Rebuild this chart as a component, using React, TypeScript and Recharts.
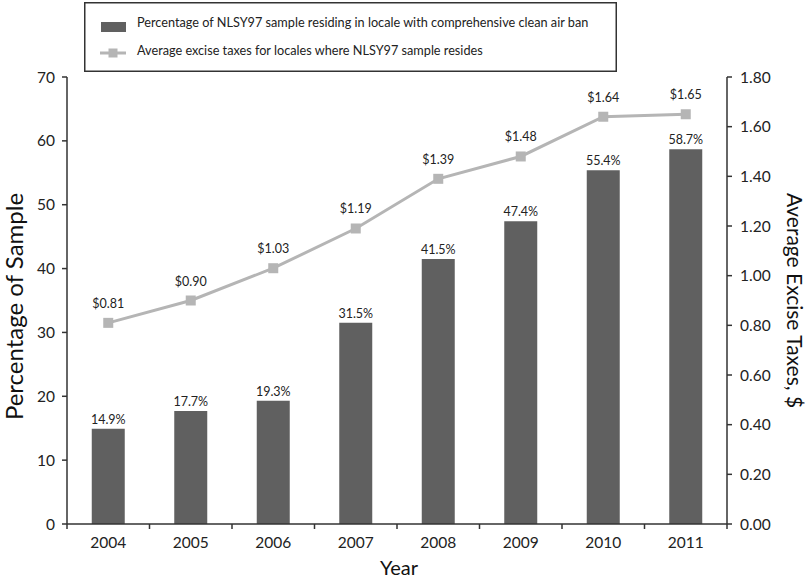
import React from 'react';
import { ComposedChart, Bar, Line, XAxis, YAxis, Legend, LabelList } from 'recharts';

const years = ['2004', '2005', '2006', '2007', '2008', '2009', '2010', '2011'];
const cleanAirBanPct = [14.9, 17.7, 19.3, 31.5, 41.5, 47.4, 55.4, 58.7];
const exciseTaxes = [0.81, 0.9, 1.03, 1.19, 1.39, 1.48, 1.64, 1.65];
const leftTicks = [0, 10, 20, 30, 40, 50, 60, 70];
const rightTicks = [0, 0.2, 0.4, 0.6, 0.8, 1.0, 1.2, 1.4, 1.6, 1.8];

const barLegend = 'Percentage of NLSY97 sample residing in locale with comprehensive clean air ban';
const lineLegend = 'Average excise taxes for locales where NLSY97 sample resides';

const data = years.map((y, i) => ({ year: y, pct: cleanAirBanPct[i], tax: exciseTaxes[i] }));

const W = 807;
const H = 582;
const FONT = 'Lato, "Open Sans", sans-serif';
const BAR = '#606060';
const LINE = '#b5b5b5';
const AXIS = '#333';

const XTick = (props: any) => {
  const { x, y, payload, index, visibleTicksCount, width } = props;
  const band = width / visibleTicksCount;
  const half = band / 2;
  const ay = y - 13;
  return (
    <g>
      <line x1={x - half} x2={x - half} y1={ay} y2={ay + 5} stroke={AXIS} strokeWidth={1.5} />
      {index === visibleTicksCount - 1 && (
        <line x1={x + half} x2={x + half} y1={ay} y2={ay + 5} stroke={AXIS} strokeWidth={1.5} />
      )}
      <text x={x} y={y} dy="0.71em" textAnchor="middle" fill="#222" fontSize={15.5}>
        {payload.value}
      </text>
    </g>
  );
};

const SquareDot = (props: any) => {
  const { cx, cy } = props;
  if (cx == null || cy == null) return null;
  return <rect x={cx - 5} y={cy - 5} width={10} height={10} fill={LINE} />;
};

const LegendBox = () => (
  <svg width={533} height={70} style={{ display: 'block' }}>
    <rect x={0.75} y={0.75} width={531.5} height={68.5} fill="#fff" stroke={AXIS} strokeWidth={1.5} />
    <rect x={17} y={20} width={25} height={10} fill={BAR} />
    <text x={53} y={25} fontSize={12.7} fill="#222">{barLegend}</text>
    <line x1={16} x2={42} y1={51} y2={51} stroke={LINE} strokeWidth={3} />
    <rect x={24.5} y={46.5} width={9} height={9} fill={LINE} />
    <text x={53} y={53} fontSize={12.7} fill="#222">{lineLegend}</text>
  </svg>
);

export default function App() {
  return (
    <div style={{ position: 'fixed', left: 0, top: 0, width: W, height: H, background: '#fff', fontFamily: FONT }}>
      <ComposedChart
        width={W}
        height={H}
        data={data}
        margin={{ top: 77, right: 0, bottom: 0, left: 0 }}
        barCategoryGap="30%"
      >
        <Legend
          layout="horizontal"
          verticalAlign="middle"
          align="center"
          content={<LegendBox />}
          wrapperStyle={{ position: 'absolute', top: 2, left: 84, width: 533, height: 70 }}
        />
        <XAxis
          dataKey="year"
          height={58}
          interval={0}
          axisLine={{ stroke: AXIS, strokeWidth: 1.5 }}
          tickLine={{ stroke: 'none' }}
          tickSize={5}
          tickMargin={8}
          tick={<XTick />}
          label={{
            content: (p: any) => {
              const vb = p.viewBox;
              return (
                <text x={vb.x + vb.width / 2 + 2} y={vb.y + 51} textAnchor="middle" fontSize={20} fill="#111">
                  Year
                </text>
              );
            },
          }}
        />
        <YAxis
          yAxisId="left"
          width={67}
          domain={[0, 70]}
          ticks={leftTicks}
          interval={0}
          axisLine={{ stroke: AXIS, strokeWidth: 1.5 }}
          tickLine={{ stroke: AXIS, strokeWidth: 1.5 }}
          tickSize={5}
          tickMargin={7}
          tick={{ fill: '#222', fontSize: 15.5 }}
          label={{
            content: (p: any) => {
              const vb = p.viewBox;
              const cx = 13;
              const cy = vb.y + vb.height / 2 + 6;
              return (
                <text x={cx} y={cy} transform={`rotate(-90 ${cx} ${cy})`} textAnchor="middle" dominantBaseline="central" fontSize={24} fill="#111">
                  Percentage of Sample
                </text>
              );
            },
          }}
        />
        <YAxis
          yAxisId="right"
          orientation="right"
          width={80}
          domain={[0, 1.8]}
          ticks={rightTicks}
          interval={0}
          tickFormatter={(v: number) => v.toFixed(2)}
          axisLine={{ stroke: AXIS, strokeWidth: 1.5 }}
          tickLine={{ stroke: AXIS, strokeWidth: 1.5 }}
          tickSize={5}
          tickMargin={8}
          tick={{ fill: '#222', fontSize: 15.5 }}
          label={{
            content: (p: any) => {
              const vb = p.viewBox;
              const cx = vb.x + 68;
              const cy = vb.y + vb.height / 2;
              return (
                <text x={cx} y={cy} transform={`rotate(90 ${cx} ${cy})`} textAnchor="middle" dominantBaseline="central" fontSize={21} fill="#111">
                  Average Excise Taxes, $
                </text>
              );
            },
          }}
        />
        <Bar yAxisId="left" dataKey="pct" fill={BAR} isAnimationActive={false}>
          <LabelList
            dataKey="pct"
            position="top"
            offset={5}
            formatter={(v: any) => `${Number(v).toFixed(1)}%`}
            style={{ fill: '#222', fontSize: 12.5 }}
          />
        </Bar>
        <Line
          yAxisId="right"
          dataKey="tax"
          stroke={LINE}
          strokeWidth={3}
          dot={<SquareDot />}
          activeDot={false}
          isAnimationActive={false}
        >
          <LabelList
            dataKey="tax"
            position="top"
            offset={15}
            formatter={(v: any) => `$${Number(v).toFixed(2)}`}
            style={{ fill: '#222', fontSize: 12.5 }}
          />
        </Line>
      </ComposedChart>
    </div>
  );
}
